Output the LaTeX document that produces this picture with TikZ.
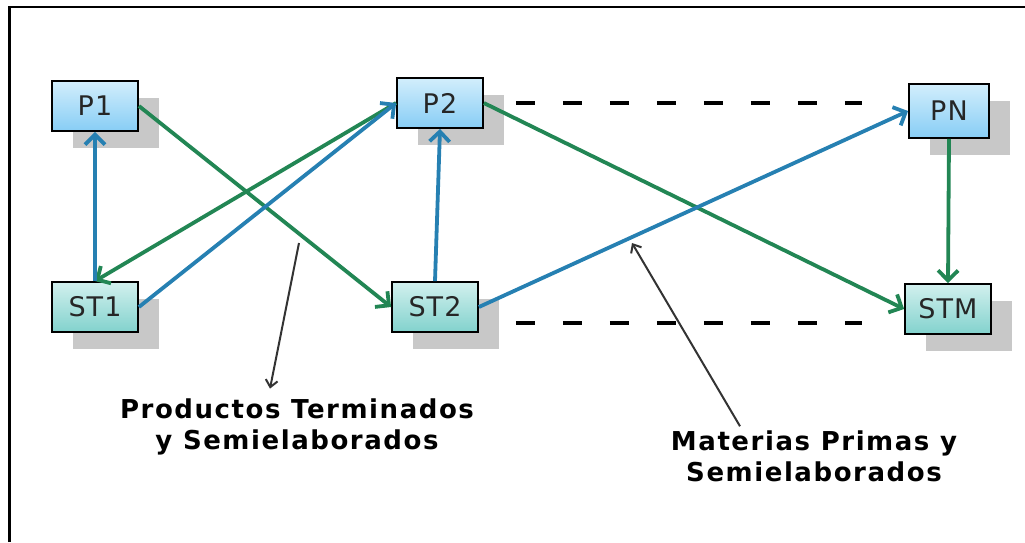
\documentclass[tikz,border=0pt]{standalone}
\usepackage{fontspec}
\setmainfont{DejaVu Sans}
\newfontfamily\boxfont[LetterSpace=4]{DejaVu Sans}
\newfontfamily\notefont[LetterSpace=6]{DejaVu Sans}
\usetikzlibrary{arrows.meta,shadows}

\definecolor{linkgreen}{RGB}{34,134,84}
\definecolor{linkblue}{RGB}{38,128,178}
\definecolor{ptop}{RGB}{210,238,252}
\definecolor{pbot}{RGB}{135,205,245}
\definecolor{sttop}{RGB}{210,240,238}
\definecolor{stbot}{RGB}{130,210,205}
\definecolor{shadowgray}{RGB}{200,200,200}

\tikzset{
  box/.style={draw=black, line width=1.8pt, minimum width=86pt, minimum height=50pt,
    inner sep=0pt, text=black!85, font=\boxfont\fontsize{27}{30}\selectfont,
    copy shadow={shadow xshift=21pt, shadow yshift=-17pt, fill=shadowgray, draw=none}},
  pbox/.style={box, top color=ptop, bottom color=pbot},
  stbox/.style={box, top color=sttop, bottom color=stbot},
  greenlink/.style={draw=linkgreen, line width=3.8pt, -{Straight Barb[length=10pt,width=20pt]}},
  bluelink/.style={draw=linkblue, line width=3.8pt, -{Straight Barb[length=10pt,width=20pt]}},
  dashline/.style={draw=black, line width=4pt, dash pattern=on 19pt off 28pt},
  notetext/.style={align=center, inner sep=0pt, font=\notefont\bfseries\fontsize{26}{31}\selectfont},
  notearrow/.style={draw=black!80, line width=2pt, -{Straight Barb[length=7pt,width=12pt]}}
}

\begin{document}
\begin{tikzpicture}[x=1pt, y=-1pt]
  \useasboundingbox (0,0) rectangle (1025,542);
  % frame
  \draw[line width=2.5pt] (9.5,542) -- (9.5,7) -- (1025,7);

  % plans and stocks
  \node[pbox] (p1) at (95,106) {P1};
  \node[stbox] (st1) at (95,307) {ST1};
  \node[pbox] (p2) at (440,103) {P2};
  \node[stbox] (st2) at (435,307) {ST2};
  \node[pbox, minimum width=80pt, minimum height=54pt] (pn) at (949,111) {PN};
  \node[stbox] (stm) at (948,309) {STM};

  % dashed gaps
  \draw[dashline] ([xshift=32pt]p2.east) -- ([xshift=-46pt]p2.east -| pn.west);
  \draw[dashline] ([xshift=37pt,yshift=-16pt]st2.east) -- ([xshift=-42pt,yshift=-16pt]st2.east -| stm.west);

  % links
  \draw[greenlink] (p1.east) -- (st2.west);
  \draw[greenlink] (p2.west) -- (st1.north);
  \draw[greenlink] (p2.east) -- (stm.west);
  \draw[greenlink] (pn.south) -- (stm.north);
  \draw[bluelink] (st1.north) -- (p1.south);
  \draw[bluelink] (st1.east) -- (p2.west);
  \draw[bluelink] (st2.north) -- (p2.south);
  \draw[bluelink] (st2.east) -- (pn.west);

  % notes
  \node[notetext] (prodlbl) at (297,427) {Productos Terminados\\y Semielaborados};
  \node[notetext] (matlbl) at (814,456) {Materias Primas y\\Semielaborados};
  \coordinate (prodpt) at (299,243);
  \coordinate (matpt) at (632,243);
  \draw[notearrow] (prodpt) -- ([xshift=-27pt,yshift=10pt]prodlbl.north);
  \draw[notearrow] ([xshift=-74pt,yshift=4pt]matlbl.north) -- (matpt);
\end{tikzpicture}
\end{document}
